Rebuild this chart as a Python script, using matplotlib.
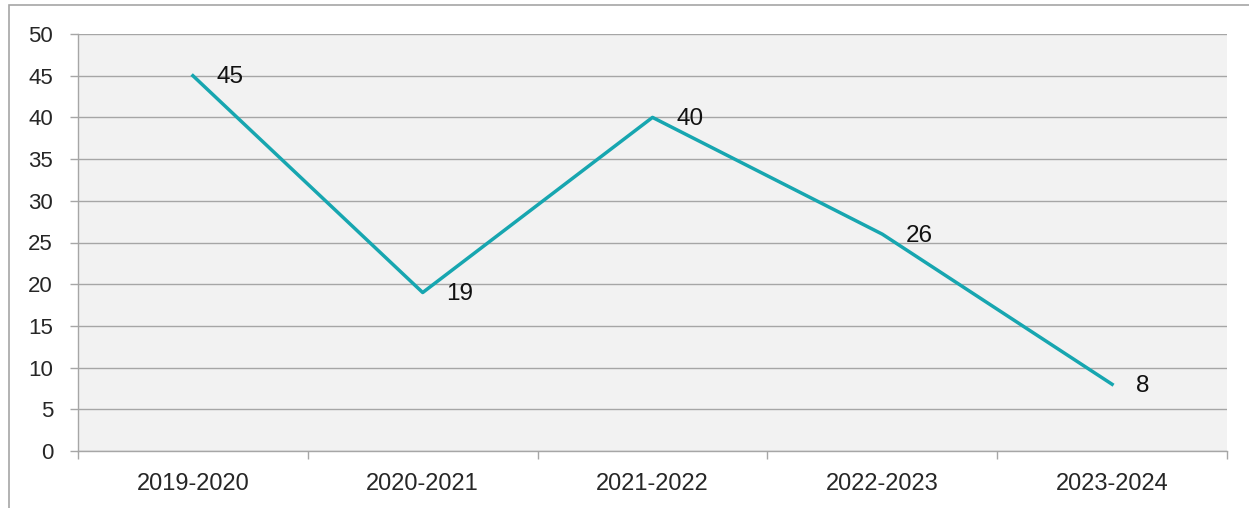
import matplotlib.pyplot as plt
from matplotlib.patches import Rectangle

seasons = ["2019-2020", "2020-2021", "2021-2022", "2022-2023", "2023-2024"]
counts = [45, 19, 40, 26, 8]
yticks = [0, 5, 10, 15, 20, 25, 30, 35, 40, 45, 50]

plt.rcParams['font.family'] = ['Liberation Sans', 'DejaVu Sans']

W, H = 1249, 508
fig = plt.figure(figsize=(W / 100, H / 100), dpi=100)
ax = fig.add_axes([78 / W, 1 - 451 / H, (1227 - 78) / W, (451 - 34) / H])

# outer border (top and left visible)
fig.patches.append(Rectangle((9 / W, -0.1), 1.2, 1.1 - 5 / H,
                             transform=fig.transFigure, fill=False,
                             edgecolor='#a6a6a6', linewidth=1.2))

ax.set_facecolor('#f2f2f2')
x = list(range(len(seasons)))
ax.plot(x, counts, color='#17a6b0', linewidth=2.5, zorder=3)

for xi, v in zip(x, counts):
    ax.annotate(str(v), (xi, v), xytext=(17, -1), textcoords='offset points',
                ha='left', va='center', fontsize=17.5, color='#111111', zorder=4)

ax.set_xlim(-0.5, len(seasons) - 0.5)
ax.set_ylim(0, 50)
ax.set_yticks(yticks)
ax.set_xticks(x)
ax.set_xticklabels(seasons)
ax.set_xticks([i - 0.5 for i in range(len(seasons) + 1)], minor=True)
ax.tick_params(axis='x', which='major', length=0, pad=16, labelsize=17, labelcolor='#262626')
ax.tick_params(axis='x', which='minor', length=6, color='#a6a6a6', width=1)
ax.tick_params(axis='y', length=6, color='#a6a6a6', width=1, labelsize=16,
               labelcolor='#262626', pad=12)
ax.grid(axis='y', color='#a6a6a6', linewidth=1, zorder=1)
ax.set_axisbelow(True)
for s in ['top', 'right']:
    ax.spines[s].set_visible(False)
for s in ['left', 'bottom']:
    ax.spines[s].set_color('#a6a6a6')
    ax.spines[s].set_linewidth(1)

fig.savefig('out.png', dpi=100)
